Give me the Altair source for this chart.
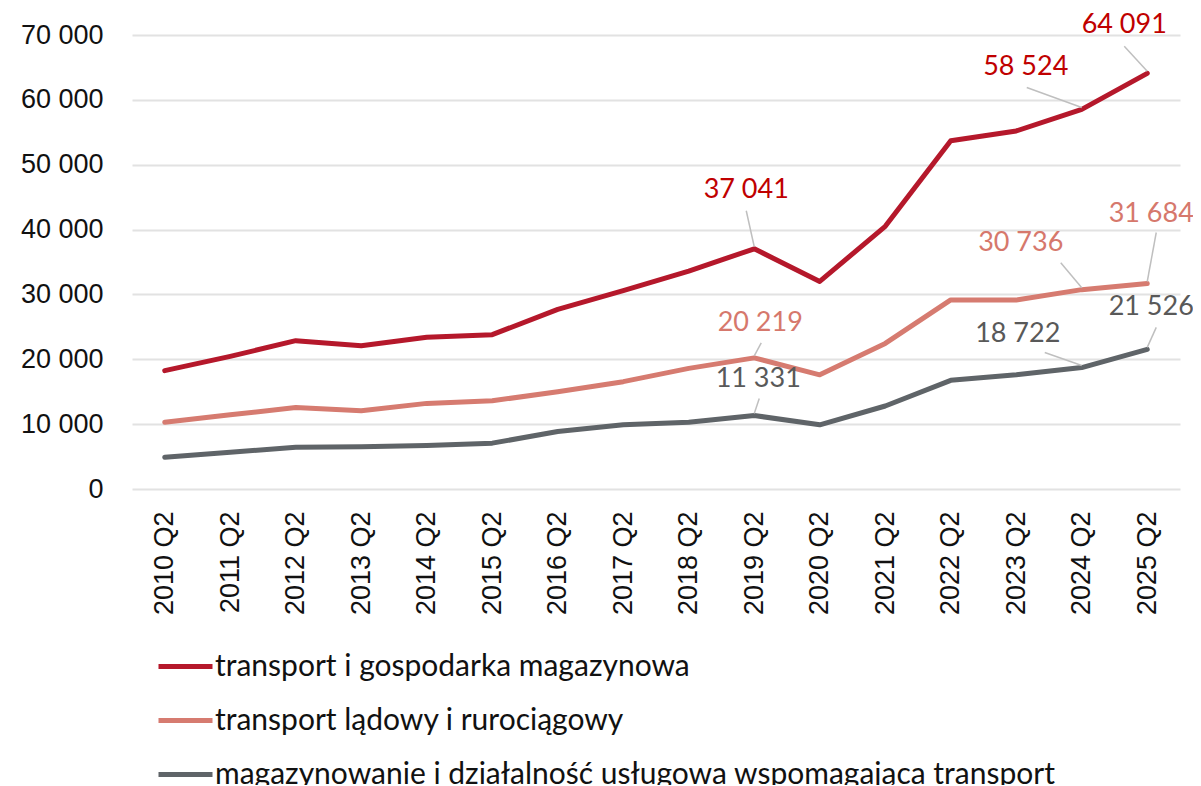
import altair as alt
import pandas as pd

periods = [f"{y} Q2" for y in range(2010, 2026)]
series_names = [
    "transport i gospodarka magazynowa",
    "transport lądowy i rurociągowy",
    "magazynowanie i działalność usługowa wspomagająca transport",
]
red_vals = [18250, 20450, 22870, 22100, 23390, 23800, 27700, 30600, 33600, 37041,
            32000, 40500, 53700, 55200, 58524, 64091]
pink_vals = [10300, 11450, 12550, 12050, 13200, 13600, 15000, 16550, 18600, 20219,
             17600, 22450, 29150, 29150, 30736, 31684]
gray_vals = [4900, 5670, 6450, 6500, 6710, 7070, 8870, 9900, 10300, 11331,
             9900, 12800, 16750, 17600, 18722, 21526]
line_colors = ["#B5182B", "#D67B70", "#5F6468"]
label_colors = ["#C00000", "#D6786C", "#595959"]

# labelled points: (series index, period)
labelled = [
    (0, "2019 Q2"), (0, "2024 Q2"), (0, "2025 Q2"),
    (1, "2019 Q2"), (1, "2024 Q2"), (1, "2025 Q2"),
    (2, "2019 Q2"), (2, "2024 Q2"), (2, "2025 Q2"),
]
# style: text offset (dx, dy) and leader start offset from the point
label_style = {
    (0, "2019 Q2"): ((-8, -59), (-8, -38)),
    (0, "2024 Q2"): ((-56, -42), (-55, -22)),
    (0, "2025 Q2"): ((-23, -48), (-23, -27)),
    (1, "2019 Q2"): ((6, -35), (7, -15)),
    (1, "2024 Q2"): ((-61, -47), (-21, -27)),
    (1, "2025 Q2"): ((4, -70), (9, -51)),
    (2, "2019 Q2"): ((4, -37), (5, -17)),
    (2, "2024 Q2"): ((-64, -34), (-37, -15)),
    (2, "2025 Q2"): ((4, -42), (9, -22)),
}

all_vals = [red_vals, pink_vals, gray_vals]
rows = []
for s, vals in zip(series_names, all_vals):
    for p, v in zip(periods, vals):
        rows.append({"okres": p, "wartosc": v, "seria": s})
df = pd.DataFrame(rows)

x_scale = alt.Scale(type="point", padding=0.5, domain=periods)
y_scale = alt.Scale(domain=[0, 70000], nice=False)

lines = alt.Chart(df).mark_line(strokeWidth=5, strokeJoin="round", strokeCap="round").encode(
    x=alt.X("okres:N", scale=x_scale, sort=periods,
            axis=alt.Axis(title=None, labelAngle=-90, labelFont="Liberation Sans",
                          labelFontSize=27, labelColor="#111111", labelPadding=22,
                          ticks=False, domain=False, grid=False)),
    y=alt.Y("wartosc:Q", scale=y_scale,
            axis=alt.Axis(title=None, values=list(range(0, 70001, 10000)),
                          labelExpr="replace(format(datum.value, ',d'), ',', ' ')",
                          labelFont="Liberation Sans", labelFontSize=27, labelColor="#111111",
                          labelPadding=29, ticks=False, domain=False,
                          grid=True, gridColor="#E2E2E2", gridWidth=2)),
    color=alt.Color("seria:N", scale=alt.Scale(domain=series_names, range=line_colors),
                    legend=alt.Legend(title=None, orient="none", legendX=24, legendY=602,
                                      direction="vertical", symbolType="stroke",
                                      symbolSize=2916, symbolStrokeWidth=5,
                                      labelFont="Lato", labelFontSize=30, labelColor="#111111",
                                      labelOffset=0, rowPadding=9, padding=0,
                                      labelLimit=1000)),
)

layers = [lines]
for (si, per) in labelled:
    val = all_vals[si][periods.index(per)]
    txt = f"{val:,}".replace(",", " ")
    (tdx, tdy), (ldx, ldy) = label_style[(si, per)]
    d = pd.DataFrame([{"okres": per, "wartosc": val, "tekst": txt}])
    rule = alt.Chart(d).mark_rule(color="#BFBFBF", strokeWidth=1.5,
                                  xOffset=ldx, yOffset=ldy, x2Offset=0, y2Offset=-2).encode(
        x=alt.X("okres:N", scale=x_scale, sort=periods),
        y=alt.Y("wartosc:Q", scale=y_scale),
        x2="okres:N", y2="wartosc:Q",
    )
    text = alt.Chart(d).mark_text(font="Lato", fontSize=27, color=label_colors[si],
                                  align="center", baseline="middle", dx=tdx, dy=tdy).encode(
        x=alt.X("okres:N", scale=x_scale, sort=periods),
        y=alt.Y("wartosc:Q", scale=y_scale),
        text="tekst:N",
    )
    layers += [rule, text]

chart = alt.layer(*layers).properties(
    width=1048, height=454,
    autosize=alt.AutoSizeParams(type="none"),
    padding={"left": 124, "top": 27, "right": 13, "bottom": 296},
).configure_view(strokeWidth=0)

chart.save("out.html", embed_options={"renderer": "svg", "actions": False})
